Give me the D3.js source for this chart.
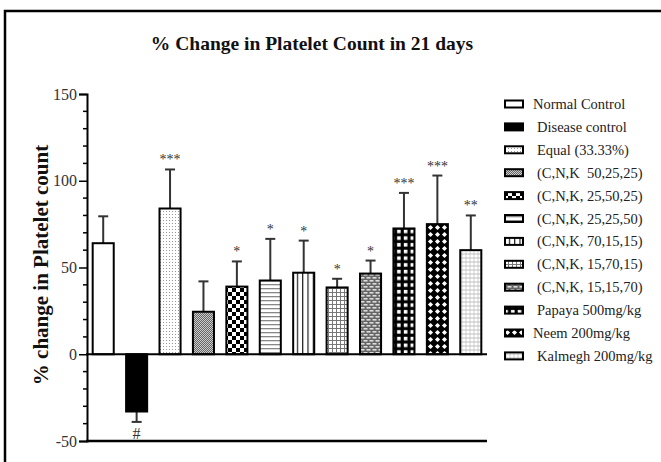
<!DOCTYPE html>
<html><head><meta charset="utf-8">
<script src="https://cdn.jsdelivr.net/npm/d3@7"></script>
<style>
body{margin:0;background:#fff;}
svg{display:block;font-family:"Liberation Serif","Times New Roman",serif;}
</style></head>
<body>
<svg id="chart" width="661" height="462"></svg>
<script>
const categories = ["Normal Control","Disease control","Equal (33.33%)","(C,N,K  50,25,25)","(C,N,K, 25,50,25)","(C,N,K, 25,25,50)","(C,N,K, 70,15,15)","(C,N,K, 15,70,15)","(C,N,K, 15,15,70)","Papaya 500mg/kg","Neem 200mg/kg","Kalmegh 200mg/kg"];
const means = [64, -33, 84, 24.5, 39, 42.5, 47, 38.5, 46.5, 72.5, 75, 60];
const errors = [15.5, 6, 22.5, 17.5, 14.5, 24, 18.5, 5, 7.5, 20.5, 28, 20];
const signif = ["", "#", "***", "", "*", "*", "*", "*", "*", "***", "***", "**"];
const yTicks = [-50, 0, 50, 100, 150];
const patternIds = ["pNormal","pDisease","pEqual","p1","p2","p3","p4","p5","p6","pPapaya","pNeem","pKalmegh"];

const svg = d3.select("#chart");
const defs = svg.append("defs");

function pat(id, w, h, draw){
  const p = defs.append("pattern").attr("id", id).attr("patternUnits","userSpaceOnUse").attr("width", w).attr("height", h);
  draw(p);
}
pat("pNormal",4,4,p=>p.append("rect").attr("width",4).attr("height",4).attr("fill","#fff"));
pat("pDisease",4,4,p=>p.append("rect").attr("width",4).attr("height",4).attr("fill","#000"));
pat("pEqual",3,3,p=>{p.append("rect").attr("width",3).attr("height",3).attr("fill","#fff");
  p.append("rect").attr("x",1).attr("y",1).attr("width",1).attr("height",1).attr("fill","#999");});
pat("p1",2,2,p=>{p.append("rect").attr("width",2).attr("height",2).attr("fill","#666");
  p.append("rect").attr("width",1).attr("height",1).attr("fill","#ccc");
  p.append("rect").attr("x",1).attr("y",1).attr("width",1).attr("height",1).attr("fill","#ccc");});
pat("p2",8,8,p=>{p.append("rect").attr("width",8).attr("height",8).attr("fill","#fff");
  p.append("rect").attr("width",4).attr("height",4).attr("fill","#000");
  p.append("rect").attr("x",4).attr("y",4).attr("width",4).attr("height",4).attr("fill","#000");});
pat("p3",4,4,p=>{p.append("rect").attr("width",4).attr("height",4).attr("fill","#fff");
  p.append("rect").attr("y",0).attr("width",4).attr("height",1.3).attr("fill","#888");});
pat("p4",5.3,5,p=>{p.append("rect").attr("width",5.3).attr("height",5).attr("fill","#fff");
  p.append("rect").attr("x",0).attr("width",1.2).attr("height",5).attr("fill","#222");});
pat("p5",4,4,p=>{p.append("rect").attr("width",4).attr("height",4).attr("fill","#fff");
  p.append("rect").attr("width",4).attr("height",1).attr("fill","#777");
  p.append("rect").attr("width",1).attr("height",4).attr("fill","#777");});
pat("p6",6,6,p=>{p.append("rect").attr("width",6).attr("height",6).attr("fill","#666");
  p.append("rect").attr("x",0.5).attr("y",1).attr("width",4).attr("height",1.6).attr("fill","#ddd");
  p.append("rect").attr("x",3.5).attr("y",4).attr("width",4).attr("height",1.6).attr("fill","#ddd");
  p.append("rect").attr("x",-2.5).attr("y",4).attr("width",4).attr("height",1.6).attr("fill","#ddd");});
pat("pPapaya",6.7,6.7,p=>{p.append("rect").attr("width",6.7).attr("height",6.7).attr("fill","#000");
  p.append("rect").attr("x",1.8).attr("y",1.8).attr("width",3.6).attr("height",3.6).attr("fill","#fff");});
pat("pNeem",7,7,p=>{p.append("rect").attr("width",7).attr("height",7).attr("fill","#000");
  p.append("polygon").attr("points","3.5,0.9 6.1,3.5 3.5,6.1 0.9,3.5").attr("fill","#fff");});
pat("pKalmegh",4,4,p=>{p.append("rect").attr("width",4).attr("height",4).attr("fill","#fff");
  p.append("ellipse").attr("cx",2).attr("cy",2).attr("rx",1.4).attr("ry",1).attr("fill","none").attr("stroke","#aaa").attr("stroke-width",0.7);});

// frame
svg.append("path").attr("d","M5,462 L5,11 L661,11").attr("fill","none").attr("stroke","#000").attr("stroke-width",2.5);

// title
svg.append("text").attr("x",312).attr("y",50).attr("text-anchor","middle")
  .attr("font-weight","bold").attr("font-size",19.5).attr("fill","#111")
  .text("% Change in Platelet Count in 21 days");

const x = d3.scaleBand().domain(categories).range([87,487]).paddingInner(0.37).paddingOuter(0.17);
const y = d3.scaleLinear().domain([-50,150]).range([441,94]);

// y label
svg.append("text").attr("transform","translate(48,265) rotate(-90)").attr("text-anchor","middle")
  .attr("font-weight","bold").attr("font-size",21).attr("fill","#111")
  .text("% change in Platelet count");

// minor ticks
const minor = d3.range(-50,151,10).filter(v=>yTicks.indexOf(v)<0);
svg.append("g").selectAll("line").data(minor).join("line")
  .attr("x1",83).attr("x2",87).attr("y1",d=>y(d)).attr("y2",d=>y(d))
  .attr("stroke","#000").attr("stroke-width",1.5);

const yAxis = svg.append("g").attr("transform","translate(87,0)")
  .call(d3.axisLeft(y).tickValues(yTicks).tickSize(8).tickPadding(2).tickFormat(d=>String(d)));
yAxis.select(".domain").attr("stroke","#000").attr("stroke-width",2);
yAxis.selectAll(".tick line").attr("stroke","#000").attr("stroke-width",1.5);
yAxis.selectAll(".tick text").attr("font-size",16).attr("fill","#333").attr("font-family","Liberation Serif, serif");

// bottom axis line
svg.append("line").attr("x1",86).attr("x2",487).attr("y1",y(-50)).attr("y2",y(-50)).attr("stroke","#000").attr("stroke-width",2.5);

const data = categories.map((c,i)=>({c, m:means[i], e:errors[i], s:signif[i], p:patternIds[i]}));

// error bars
const eb = svg.append("g");
data.forEach(d=>{
  const cx = x(d.c)+x.bandwidth()/2;
  const tip = d.m>=0 ? d.m+d.e : d.m-d.e;
  eb.append("line").attr("x1",cx).attr("x2",cx).attr("y1",y(d.m)).attr("y2",y(tip)).attr("stroke","#333").attr("stroke-width",2);
  eb.append("line").attr("x1",cx-5).attr("x2",cx+5).attr("y1",y(tip)).attr("y2",y(tip)).attr("stroke","#333").attr("stroke-width",2);
});

// bars
svg.append("g").selectAll("rect").data(data).join("rect")
  .attr("x",d=>x(d.c)).attr("width",x.bandwidth())
  .attr("y",d=>y(Math.max(0,d.m))).attr("height",d=>Math.abs(y(d.m)-y(0)))
  .attr("fill",d=>`url(#${d.p})`).attr("stroke","#000").attr("stroke-width",2);

// zero line
svg.append("line").attr("x1",86).attr("x2",487).attr("y1",y(0)).attr("y2",y(0)).attr("stroke","#000").attr("stroke-width",2);

// significance
data.forEach(d=>{
  if(!d.s) return;
  const cx = x(d.c)+x.bandwidth()/2;
  if(d.m>=0){
    svg.append("text").attr("x",cx).attr("y",y(d.m+d.e)-5).attr("text-anchor","middle")
      .attr("font-size",14).attr("fill","#333").text(d.s);
  } else {
    svg.append("text").attr("x",cx).attr("y",y(-50)-2).attr("text-anchor","middle")
      .attr("font-size",16).attr("fill","#333").text(d.s);
  }
});

// legend
const lg = svg.append("g");
data.forEach((d,i)=>{
  const cy = 104 + i*22.9;
  lg.append("rect").attr("x",505).attr("y",cy-3.5).attr("width",18).attr("height",7)
    .attr("fill",`url(#${d.p})`).attr("stroke","#000").attr("stroke-width",2);
  lg.append("text").attr("x", i===0||i===10 ? 533 : 537).attr("y",cy+5).attr("font-size",14.5).attr("fill","#222")
    .style("white-space","pre").text(d.c);
});
</script>
</body></html>
